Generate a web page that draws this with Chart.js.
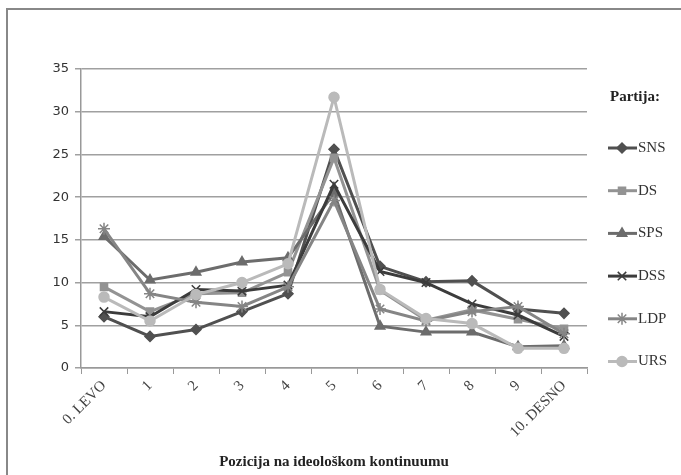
<!DOCTYPE html>
<html>
<head>
<meta charset="utf-8">
<script src="https://cdn.jsdelivr.net/npm/chart.js@4/dist/chart.umd.min.js"></script>
<style>
  html, body { margin: 0; padding: 0; background: #fff; }
  #wrap { width: 681px; height: 475px; position: relative; }
</style>
</head>
<body>
<div id="wrap"><canvas id="ideoChart" width="681" height="475"></canvas></div>
<script>
const positions = ['0. LEVO', '1', '2', '3', '4', '5', '6', '7', '8', '9', '10. DESNO'];

const sns = [6.0, 3.7, 4.5, 6.6, 8.7, 25.6, 11.9, 10.1, 10.2, 6.9, 6.4];
const ds  = [9.5, 6.6, 8.7, 8.8, 11.2, 24.6, 9.1, 5.6, 6.8, 5.7, 4.6];
const sps = [15.4, 10.3, 11.2, 12.4, 12.9, 20.5, 4.9, 4.2, 4.2, 2.5, 2.6];
const dss = [6.6, 6.0, 9.2, 9.0, 9.7, 21.5, 11.3, 10.0, 7.5, 6.2, 3.7];
const ldp = [16.3, 8.7, 7.7, 7.2, 9.5, 19.6, 6.9, 5.5, 6.6, 7.2, 4.0];
const urs = [8.3, 5.5, 8.6, 10.0, 12.2, 31.7, 9.2, 5.8, 5.2, 2.3, 2.3];

const yTicks = [0, 5, 10, 15, 20, 25, 30, 35];

const parties = [
    { label: 'SNS', data: sns, color: '#505050', style: 'rectRot', radius: 5 },
    { label: 'DS',  data: ds,  color: '#939393', style: 'rect',    radius: 5 },
    { label: 'SPS', data: sps, color: '#6c6c6c', style: 'triangle', radius: 5.5 },
    { label: 'DSS', data: dss, color: '#3c3c3c', style: 'crossRot', radius: 6 },
    { label: 'LDP', data: ldp, color: '#858585', style: 'star',    radius: 6 },
    { label: 'URS', data: urs, color: '#bababa', style: 'circle',  radius: 5 }
];

// frame (top + left lines) and legend drawn by hand
const framePlugin = {
    id: 'frame',
    beforeDraw(chart) {
        const ctx = chart.ctx;
        ctx.save();
        ctx.strokeStyle = '#888';
        ctx.lineWidth = 2;
        ctx.beginPath();
        ctx.moveTo(7, 475);
        ctx.lineTo(7, 9);
        ctx.lineTo(681, 9);
        ctx.stroke();
        ctx.restore();
    },
    afterDraw(chart) {
        const ctx = chart.ctx;
        ctx.save();
        ctx.fillStyle = '#222';
        ctx.font = 'bold 15px "Liberation Serif", serif';
        ctx.textBaseline = 'middle';
        ctx.fillText('Partija:', 610, 97);
        ctx.font = '15px "Liberation Serif", serif';
        parties.forEach((p, i) => {
            const y = 148 + i * 42.7;
            ctx.strokeStyle = p.color;
            ctx.lineWidth = 3;
            ctx.beginPath();
            ctx.moveTo(608, y);
            ctx.lineTo(637, y);
            ctx.stroke();
            if (Chart.helpers && Chart.helpers.drawPoint) {
                ctx.fillStyle = p.color;
                ctx.strokeStyle = p.color;
                ctx.lineWidth = 1.5;
                Chart.helpers.drawPoint(ctx, { pointStyle: p.style, radius: p.radius, rotation: 0, borderWidth: 1.5 }, 622, y);
            }
            ctx.fillStyle = '#333';
            ctx.fillText(p.label, 638, y);
        });
        ctx.restore();
    }
};

new Chart(document.getElementById('ideoChart'), {
    type: 'line',
    data: {
        labels: positions,
        datasets: parties.map((p, i) => ({
            label: p.label,
            data: p.data,
            borderColor: p.color,
            backgroundColor: p.color,
            borderWidth: 3,
            pointStyle: p.style,
            pointRadius: p.radius,
            pointBorderWidth: 1.5,
            pointBackgroundColor: p.color,
            pointBorderColor: p.color,
            tension: 0,
            order: parties.length - i
        }))
    },
    options: {
        responsive: false,
        animation: false,
        layout: { padding: { left: 0, top: 69, right: 94, bottom: 0 } },
        plugins: {
            legend: { display: false },
            tooltip: { enabled: false }
        },
        scales: {
            x: {
                offset: true,
                afterFit(scale) { scale.height = 107; },
                grid: { offset: true, drawOnChartArea: false, tickLength: 6, color: '#999' },
                border: { color: '#999', width: 1.5 },
                ticks: {
                    minRotation: 45, maxRotation: 45,
                    color: '#444',
                    font: { family: '"Liberation Serif", serif', size: 15 }
                },
                title: {
                    display: true,
                    text: 'Pozicija na ideološkom kontinuumu',
                    color: '#222',
                    font: { family: '"Liberation Serif", serif', size: 15, weight: 'bold' },
                    padding: { top: 0, bottom: 4 }
                }
            },
            y: {
                min: 0, max: 35,
                afterFit(scale) { scale.width = 81; },
                afterBuildTicks(scale) { scale.ticks = yTicks.map(v => ({ value: v })); },
                grid: { color: '#a0a0a0', lineWidth: 1.5, tickLength: 6 },
                border: { color: '#999', width: 1.5 },
                ticks: {
                    color: '#333',
                    padding: 6,
                    font: { family: '"DejaVu Sans", sans-serif', size: 13 }
                }
            }
        }
    },
    plugins: [framePlugin]
});
</script>
</body>
</html>
